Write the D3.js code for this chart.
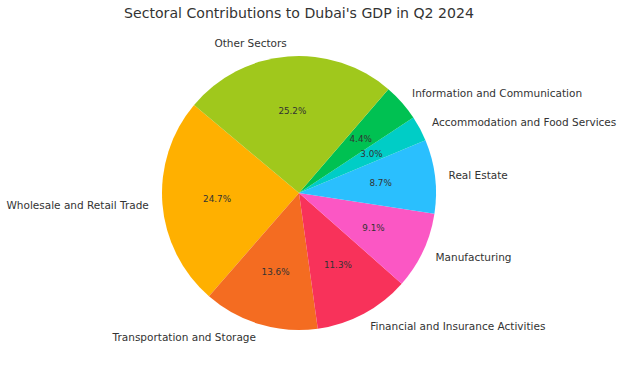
<!DOCTYPE html>
<html>
<head>
<meta charset="utf-8">
<script src="https://cdn.jsdelivr.net/npm/d3@7"></script>
<style>
  body { margin: 0; background: #fff; }
  svg { font-family: "DejaVu Sans", sans-serif; }
</style>
</head>
<body>
<div id="chart"></div>
<script>
// data
var sectors = ["Wholesale and Retail Trade", "Transportation and Storage",
  "Financial and Insurance Activities", "Manufacturing", "Real Estate",
  "Accommodation and Food Services", "Information and Communication", "Other Sectors"];
var shares = [24.7, 13.6, 11.3, 9.1, 8.7, 3.0, 4.4, 25.2];
var colors = ["#ffb000", "#f46c21", "#f8325a", "#fb57c4", "#2abffe", "#00cdc6", "#00c152", "#a0c81c"];

var W = 624, H = 371;
var cx = 299, cy = 193, r = 137;

var svg = d3.select("#chart").append("svg")
  .attr("width", W).attr("height", H);

svg.append("text")
  .attr("x", 299).attr("y", 12.5)
  .attr("text-anchor", "middle")
  .attr("dominant-baseline", "central")
  .attr("font-size", "14.1px")
  .attr("fill", "#333")
  .text("Sectoral Contributions to Dubai's GDP in Q2 2024");

// matplotlib startangle=140, counterclockwise
var start = (90 - 140) * Math.PI / 180;
var pie = d3.pie().sort(null).value(function(d) { return d; })
  .startAngle(start).endAngle(start - 2 * Math.PI);
var arcs = pie(shares);

var arc = d3.arc().innerRadius(0).outerRadius(r);

var g = svg.append("g").attr("transform", "translate(" + cx + "," + cy + ")");

g.selectAll(".slice").data(arcs).enter()
  .append("path")
  .attr("class", "slice")
  .attr("d", arc)
  .attr("fill", function(d, i) { return colors[i]; });

function mid(d) { return (d.startAngle + d.endAngle) / 2; }

g.selectAll(".lab").data(arcs).enter()
  .append("text")
  .attr("class", "lab")
  .attr("x", function(d) { return Math.sin(mid(d)) * r * 1.1; })
  .attr("y", function(d) { return -Math.cos(mid(d)) * r * 1.1; })
  .attr("text-anchor", function(d) { return Math.sin(mid(d)) < 0 ? "end" : "start"; })
  .attr("dominant-baseline", "central")
  .attr("font-size", "10.5px")
  .attr("fill", "#333")
  .text(function(d, i) { return sectors[i]; });

g.selectAll(".pct").data(arcs).enter()
  .append("text")
  .attr("class", "pct")
  .attr("x", function(d) { return Math.sin(mid(d)) * r * 0.6; })
  .attr("y", function(d) { return -Math.cos(mid(d)) * r * 0.6; })
  .attr("text-anchor", "middle")
  .attr("dominant-baseline", "central")
  .attr("font-size", "8.8px")
  .attr("fill", "#333")
  .text(function(d) { return d.data.toFixed(1) + "%"; });
</script>
</body>
</html>
